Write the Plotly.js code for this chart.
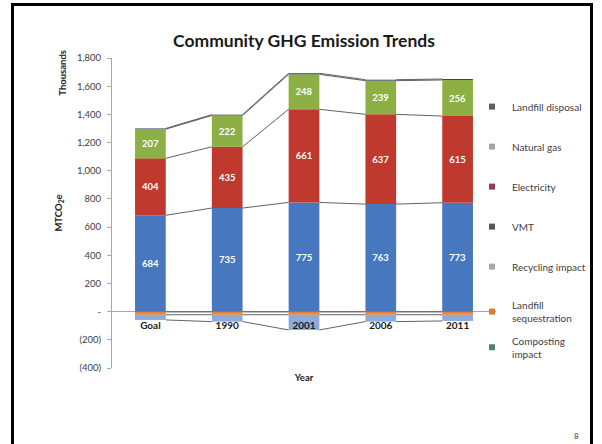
<!DOCTYPE html>
<html>
<head>
<meta charset="utf-8">
<script src="https://cdn.plot.ly/plotly-3.0.1.min.js"></script>
<style>
  html, body { margin: 0; padding: 0; background: #fff; overflow: hidden; }
  #wrap { position: relative; width: 602px; height: 444px; }
  #chart { width: 602px; height: 444px; }
  #frame { position: absolute; left: 11px; top: 3px; width: 576px; height: 470px;
           border: 3px solid #000; border-bottom: none; pointer-events: none; }
</style>
</head>
<body>
<div id="wrap">
  <div id="chart"></div>
  <div id="frame"></div>
</div>
<script>
// ---- data ----
const categories = ['Goal', '1990', '2001', '2006', '2011'];
const vmt = [684, 735, 775, 763, 773];
const electricity = [404, 435, 661, 637, 615];
const naturalGas = [207, 222, 248, 239, 256];
const landfillDisposal = [5, 6, 8, 7, 7];
const recyclingImpact = [-37, -49, -108, -49, -44];
const landfillSequestration = [-20, -20, -20, -20, -20];
const compostingImpact = [-2, -2, -2, -2, -2];
const yTickVals = [-400, -200, 0, 200, 400, 600, 800, 1000, 1200, 1400, 1600, 1800];
const yTickText = ['(400)', '(200)', '-', '200', '400', '600', '800', '1,000', '1,200', '1,400', '1,600', '1,800'];

// ---- styles ----
const FONT = 'Lato, "Open Sans", sans-serif';
const BAR_W = 0.4;
const xs = categories.map((c, i) => i);

function barTrace(name, vals, color, labels) {
  return {
    type: 'bar', name: name, x: xs, y: vals, width: BAR_W,
    marker: { color: color, line: { width: 0 } },
    text: labels ? vals.map(v => String(v)) : undefined,
    textposition: labels ? 'inside' : 'none',
    insidetextanchor: 'middle',
    textfont: { family: FONT, size: 9.5, color: '#ffffff', weight: 'bold' },
    showlegend: false, hoverinfo: 'name+y'
  };
}

const traces = [
  barTrace('Composting impact', compostingImpact, '#4bacc6', false),
  barTrace('Landfill sequestration', landfillSequestration, '#f0822d', false),
  barTrace('Recycling impact', recyclingImpact, '#8eaadc', false),
  barTrace('VMT', vmt, '#4677bf', true),
  barTrace('Electricity', electricity, '#c0392f', true),
  barTrace('Natural gas', naturalGas, '#8cb043', true),
  barTrace('Landfill disposal', landfillDisposal, '#3c3f6e', false)
];

// series lines (Excel style) connecting stacked levels between adjacent bars
function cumulative(arrs) {
  const out = []; let acc = categories.map(() => 0);
  arrs.forEach(a => { acc = acc.map((v, i) => v + a[i]); out.push(acc.slice()); });
  return out;
}
const levels = cumulative([vmt, electricity, naturalGas, landfillDisposal])
  .concat(cumulative([compostingImpact, landfillSequestration, recyclingImpact]));
const lx = [], ly = [];
levels.forEach(lv => {
  for (let i = 0; i < categories.length - 1; i++) {
    lx.push(xs[i] + BAR_W / 2, xs[i + 1] - BAR_W / 2, null);
    ly.push(lv[i], lv[i + 1], null);
  }
});
traces.push({
  type: 'scatter', mode: 'lines', x: lx, y: ly, connectgaps: false,
  line: { color: '#3a3a3a', width: 0.8 }, showlegend: false, hoverinfo: 'skip'
});

// legend entries (colours as shown in the reference legend)
const legendNames = ['Landfill disposal', 'Natural gas', 'Electricity', 'VMT',
  'Recycling impact', 'Landfill<br>sequestration', 'Composting<br>impact'];
const legendColors = ['#5b5c66', '#a4a4a4', '#8d4057', '#56585f', '#a9a9a9', '#d97c36', '#4f8272'];
legendNames.forEach((n, k) => {
  traces.push({
    type: 'scatter', mode: 'markers', x: [null], y: [null], name: n,
    legendgroup: 'g' + k,
    legend: k === legendNames.length - 1 ? 'legend2' : 'legend',
    marker: { symbol: 'square', size: 6, color: legendColors[k] },
    showlegend: true, hoverinfo: 'skip'
  });
});

const legendFont = { family: FONT, size: 10, color: '#404040' };
const layout = {
  width: 602, height: 444,
  margin: { l: 112, r: 105, t: 58, b: 76 },
  paper_bgcolor: '#ffffff', plot_bgcolor: 'rgba(0,0,0,0)',
  barmode: 'relative',
  font: { family: FONT, color: '#404040', size: 9.5 },
  title: { text: '<b>Community GHG Emission Trends</b>', x: 0.505, xanchor: 'center',
           y: 0.907, yanchor: 'middle', font: { family: FONT, size: 17.5, color: '#1a1a1a' } },
  xaxis: {
    range: [-0.5, 4.5], tickvals: xs, ticktext: categories,
    anchor: 'free', position: 0.161, showline: false, ticks: '', showgrid: false, zeroline: false,
    tickfont: { family: FONT, size: 10, color: '#1a1a1a', weight: 'bold' },
    title: { text: '<b>Year</b>', standoff: 44, font: { family: FONT, size: 9.5, color: '#1a1a1a' } }
  },
  yaxis: {
    range: [-400, 1800], tickvals: yTickVals, ticktext: yTickText,
    showgrid: false, zeroline: true, zerolinecolor: '#a6a6a6', zerolinewidth: 1,
    showline: true, linecolor: '#a6a6a6', linewidth: 1,
    ticks: 'outside', ticklen: 4, tickcolor: '#a6a6a6', ticklabelstandoff: 4,
    tickfont: { family: FONT, size: 9.5, color: '#404040' },
    title: { text: '<b>MTCO<sub>2</sub>e</b>', standoff: 12, font: { family: FONT, size: 9.5, color: '#1a1a1a' } }
  },
  legend: {
    x: 0.935, xanchor: 'left', y: 0.89, yanchor: 'top',
    traceorder: 'grouped', tracegroupgap: 21, itemwidth: 30,
    font: legendFont, bgcolor: 'rgba(0,0,0,0)', borderwidth: 0
  },
  legend2: {
    x: 0.935, xanchor: 'left', y: 0.13, yanchor: 'top',
    itemwidth: 30, font: legendFont, bgcolor: 'rgba(0,0,0,0)', borderwidth: 0
  },
  annotations: [
    { text: '<b>Thousands</b>', xref: 'paper', yref: 'paper', x: -0.128, y: 0.952,
      textangle: -90, showarrow: false, xanchor: 'center', yanchor: 'middle',
      font: { family: FONT, size: 9.5, color: '#1a1a1a' } },
    { text: '8', xref: 'paper', yref: 'paper', x: 1.21, y: -0.219, showarrow: false,
      xanchor: 'center', yanchor: 'middle', font: { family: FONT, size: 8, color: '#333' } }
  ]
};

Plotly.newPlot('chart', traces, layout, { displayModeBar: false, staticPlot: true });
</script>
</body>
</html>
